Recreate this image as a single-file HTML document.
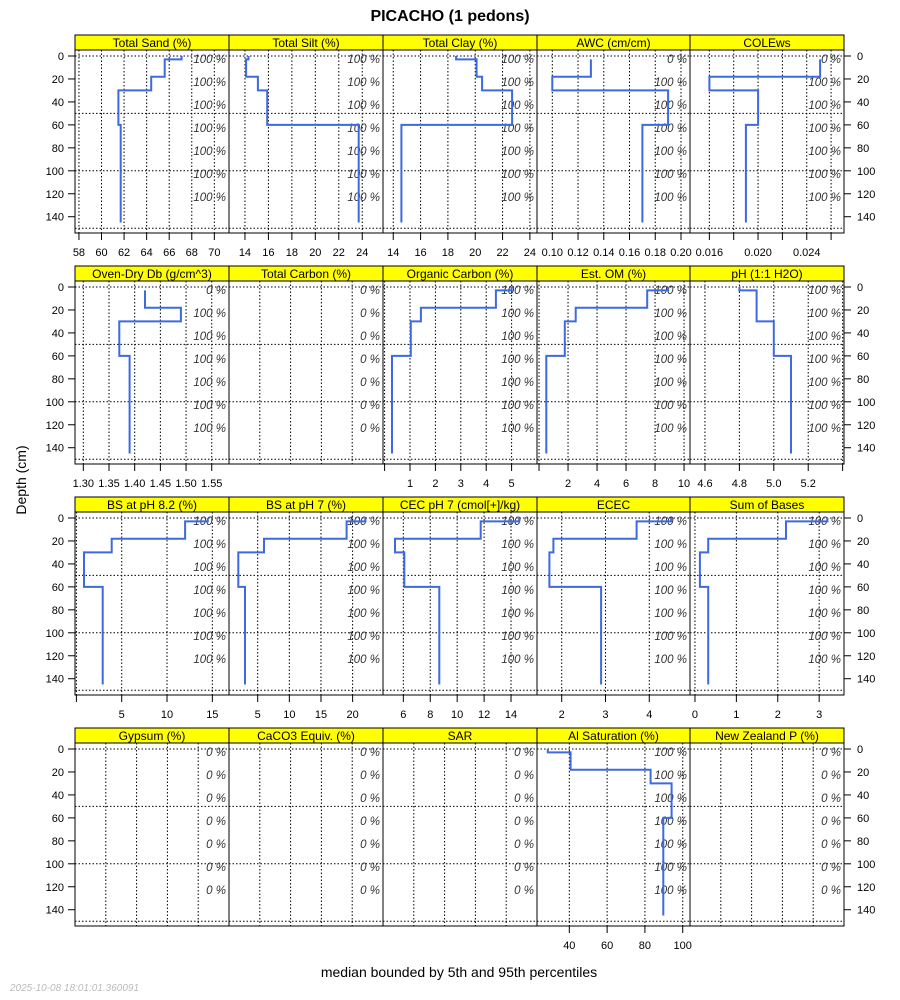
<!DOCTYPE html>
<html><head><meta charset="utf-8"><title>PICACHO (1 pedons)</title>
<style>
html,body{margin:0;padding:0;background:#fff;}
svg{display:block;font-family:"Liberation Sans",Arial,sans-serif;}
</style></head>
<body>
<svg id="chart" width="900" height="1000" viewBox="0 0 900 1000" xmlns="http://www.w3.org/2000/svg">
<rect x="0" y="0" width="900" height="1000" fill="#fff"/>
<text x="450" y="21" text-anchor="middle" font-size="16" font-weight="bold">PICACHO (1 pedons)</text>
<text transform="translate(26,480) rotate(-90)" text-anchor="middle" font-size="14">Depth (cm)</text>
<text x="459" y="977" text-anchor="middle" font-size="14">median bounded by 5th and 95th percentiles</text>
<text x="10" y="991" font-size="10" font-style="italic" fill="#bbb">2025-10-08 18:01:01.360091</text>
<g id="plots"></g>
</svg>
<script>
// ---- data ----
const panelNames = ["Total Sand (%)","Total Silt (%)","Total Clay (%)","AWC (cm/cm)","COLEws",
 "Oven-Dry Db (g/cm^3)","Total Carbon (%)","Organic Carbon (%)","Est. OM (%)","pH (1:1 H2O)",
 "BS at pH 8.2 (%)","BS at pH 7 (%)","CEC pH 7 (cmol[+]/kg)","ECEC","Sum of Bases",
 "Gypsum (%)","CaCO3 Equiv. (%)","SAR","Al Saturation (%)","New Zealand P (%)"];
const horizonTops = [0,3,18,30,60];
const horizonBottoms = [3,18,30,60,145];
const sandValues = [67.1,65.6,64.4,61.5,61.7];
const siltValues = [14.3,14.1,15.1,15.9,23.7];
const clayValues = [18.6,20.1,20.5,22.7,14.6];
const awcValues = [null,0.13,0.10,0.19,0.17];
const coleValues = [null,0.0251,0.016,0.020,0.019];
const dbValues = [null,1.42,1.49,1.37,1.39];
const totalCarbonValues = [null,null,null,null,null];
const ocValues = [5.0,4.38,1.43,1.03,0.29];
const omValues = [8.9,7.46,2.53,1.78,0.5];
const phValues = [4.8,4.9,4.9,5.0,5.1];
const bs82Values = [14.5,12.0,3.9,0.84,2.9];
const bs7Values = [22.0,19.05,6.0,1.93,3.0];
const cecValues = [14.6,11.75,5.38,6.07,8.67];
const ececValues = [4.5,3.71,1.81,1.72,2.90];
const sumBasesValues = [3.2,2.2,0.32,0.12,0.32];
const gypsumValues = [null,null,null,null,null];
const caco3Values = [null,null,null,null,null];
const sarValues = [null,null,null,null,null];
const alSatValues = [28.6,40.7,83.0,94.1,89.7];
const nzpValues = [null,null,null,null,null];
const allSeries = [sandValues,siltValues,clayValues,awcValues,coleValues,dbValues,totalCarbonValues,ocValues,omValues,phValues,
 bs82Values,bs7Values,cecValues,ececValues,sumBasesValues,gypsumValues,caco3Values,sarValues,alSatValues,nzpValues];
const xDomains = [[57.65,71.3],[12.64,25.77],[13.25,24.52],[0.0881,0.207],[0.01441,0.02706],
 [1.2838,1.5836],[0,5],[-0.063,6.0],[-0.14,10.41],[4.513,5.408],
 [-0.155,16.84],[0.466,24.8],[4.49,15.93],[1.436,4.93],[-0.12,3.60],
 [0,5],[0,5],[0,5],[22.9,103.85],[0,5]];
const tickValues = [[58,60,62,64,66,68,70],[14,16,18,20,22,24],[14,16,18,20,22,24],[0.10,0.12,0.14,0.16,0.18,0.20],[0.016,0.018,0.020,0.022,0.024,0.026],
 [1.30,1.35,1.40,1.45,1.50,1.55],[1,2,3,4],[0,1,2,3,4,5],[0,2,4,6,8,10],[4.6,4.8,5.0,5.2,5.4],
 [0,5,10,15],[5,10,15,20],[6,8,10,12,14],[2,3,4],[0,1,2,3],
 [1,2,3,4],[1,2,3,4],[1,2,3,4],[40,60,80,100],[1,2,3,4]];
const tickLabels = [["58","60","62","64","66","68","70"],["14","16","18","20","22","24"],["14","16","18","20","22","24"],["0.10","0.12","0.14","0.16","0.18","0.20"],["0.016","","0.020","","0.024",""],
 ["1.30","1.35","1.40","1.45","1.50","1.55"],null,["","1","2","3","4","5"],["","2","4","6","8","10"],["4.6","4.8","5.0","5.2",""],
 ["","5","10","15"],["5","10","15","20"],["6","8","10","12","14"],["2","3","4"],["0","1","2","3"],
 null,null,null,["40","60","80","100"],null];
const P100 = ["100 %","100 %","100 %","100 %","100 %","100 %","100 %"];
const PNA1 = ["0 %","100 %","100 %","100 %","100 %","100 %","100 %"];
const P0 = ["0 %","0 %","0 %","0 %","0 %","0 %","0 %"];
const pctLabels = [P100,P100,P100,PNA1,PNA1, PNA1,P0,P100,P100,P100, P100,P100,P100,P100,P100, P0,P0,P0,P100,P0];
const depthTicks = [0,20,40,60,80,100,120,140];
const pctDepths = [0,20,40,60,80,100,120];
const gridDepths = [0,50,100,150];

// ---- layout ----
const NS = "http://www.w3.org/2000/svg";
const colX = [75,229,383,537,690,844];
const stripTops = [35,266,497,728];
const stripH = 15, panelH = 183, depthOffset = 6, pxPerCm = 1.148;
const root = document.getElementById("plots");
function mk(tag, attrs, parent){
  const e = document.createElementNS(NS, tag);
  for (const k in attrs) e.setAttribute(k, attrs[k]);
  (parent||root).appendChild(e);
  return e;
}
function slug(s){return s.toLowerCase().replace(/[^a-z0-9]+/g,'-').replace(/^-|-$/g,'');}

for (let r=0;r<4;r++){
  const pTop = stripTops[r]+stripH, pBot = pTop+panelH;
  const yScale = d => pTop + depthOffset + d*pxPerCm;
  depthTicks.forEach(d=>{
    const y = yScale(d);
    mk("line",{x1:68,x2:75,y1:y,y2:y,stroke:"#000","stroke-width":1});
    const t = mk("text",{x:64,y:y+4,"text-anchor":"end","font-size":11});
    t.textContent = d;
    
    
    mk("line",{x1:844,x2:851,y1:y,y2:y,stroke:"#000","stroke-width":1});
    const t2 = mk("text",{x:857,y:y+4,"text-anchor":"start","font-size":11});
    t2.textContent = d;
    
    
  });
  for (let c=0;c<5;c++){
    const i = r*5+c;
    const x0 = colX[c], x1 = colX[c+1];
    const dom = xDomains[i];
    const xScale = v => x0 + (v-dom[0])/(dom[1]-dom[0])*(x1-x0);
    const g = mk("g",{});
    
    
    const st = mk("rect",{x:x0,y:stripTops[r],width:x1-x0,height:stripH,fill:"#ffff00",stroke:"#000","stroke-width":1},g);
    
    
    const stt = mk("text",{x:(x0+x1)/2,y:stripTops[r]+12,"text-anchor":"middle","font-size":12},g);
    stt.textContent = panelNames[i];
    
    
    gridDepths.forEach(d=>{
      const y = yScale(d);
      const gl = mk("line",{x1:x0,x2:x1,y1:y,y2:y,stroke:"#000","stroke-width":1,"stroke-dasharray":"1.5,2"},g);
      
      
    });
    tickValues[i].forEach((v,k)=>{
      const x = xScale(v);
      if (x > x0+0.5 && x < x1-0.5){
        const vl = mk("line",{x1:x,x2:x,y1:pTop,y2:pBot,stroke:"#000","stroke-width":1,"stroke-dasharray":"1.5,2"},g);
        
        
      }
      if (tickLabels[i]){
        mk("line",{x1:x,x2:x,y1:pBot,y2:pBot+7,stroke:"#000","stroke-width":1},g);
        const tl = mk("text",{x:x,y:pBot+23,"text-anchor":"middle","font-size":11},g);
        tl.textContent = tickLabels[i][k];
        
        
      }
    });
    pctDepths.forEach((d,k)=>{
      const pt = mk("text",{x:x1-3,y:yScale(d)+7,"text-anchor":"end","font-size":11.5,"font-style":"italic",fill:"#333"},g);
      pt.textContent = pctLabels[i][k];
      
      
    });
    const vals = allSeries[i];
    let d = "", prev = null;
    for (let h=0; h<vals.length; h++){
      const v = vals[h];
      if (v===null || v===undefined){ prev=null; continue; }
      const x = xScale(v);
      if (prev===null) d += "M"+x.toFixed(1)+","+yScale(horizonTops[h]).toFixed(1);
      else d += "L"+x.toFixed(1)+","+yScale(horizonTops[h]).toFixed(1);
      d += "L"+x.toFixed(1)+","+yScale(horizonBottoms[h]).toFixed(1);
      prev = v;
    }
    if (d){
      const p = mk("path",{d:d,fill:"none",stroke:"#3d6ae0","stroke-width":2,"stroke-linejoin":"miter"},g);
      
      
    }
    const b = mk("rect",{x:x0,y:pTop,width:x1-x0,height:panelH,fill:"none",stroke:"#000","stroke-width":1},g);
    
    
  }
}
</script>
</body></html>
